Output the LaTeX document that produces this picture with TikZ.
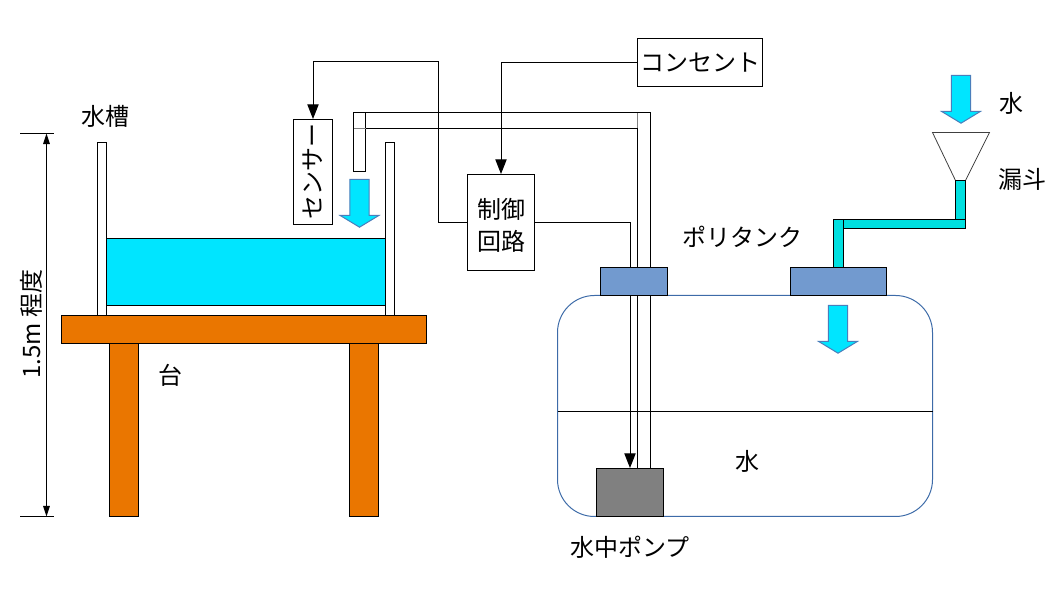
\documentclass[tikz,border=0pt]{standalone}
\usepackage{fontspec}
\setmainfont{Noto Sans CJK JP}
\usetikzlibrary{arrows.meta}
\definecolor{watercol}{HTML}{00E5FF}
\definecolor{flowedge}{HTML}{4A7EBB}
\definecolor{tablecol}{HTML}{EA7600}
\definecolor{capcol}{HTML}{729ACF}
\definecolor{funnelcol}{HTML}{00E0E0}
\definecolor{tankcol}{HTML}{3D6BA8}
\tikzset{
  part/.style={draw=black,line width=0.75pt},
  wire/.style={draw=black,line width=0.75pt},
  wirearrow/.style={wire,-{Triangle[length=11pt,width=8.5pt]}},
  flow/.style={draw=flowedge,fill=watercol,line width=0.75pt},
  tag/.style={inner sep=0pt,font=\fontsize{18}{23}\selectfont},
  labelbox/.style={part,inner sep=0pt,align=center,font=\fontsize{18}{24}\selectfont},
}
\begin{document}
\begin{tikzpicture}[x=0.75pt,y=-0.75pt]
\def\u{0.75pt}
\useasboundingbox (0,0) rectangle (1058,595);

% tank and table
\draw[part] (97,142.5) rectangle (106.5,315.5);
\draw[part] (385,142.5) rectangle (394.5,315.5);
\draw[part] (106.5,305.5) rectangle (385,315.5);
\draw[part,fill=watercol] (106.5,238.5) rectangle (385,305.5);
\foreach \x in {109.5,349.5} \draw[part,fill=tablecol] (\x,343.5) rectangle (\x+29,516.5);
\draw[part,fill=tablecol] (61.5,315.5) rectangle (426.5,343.5);

% height
\coordinate (h1) at (46.5,133.5);
\coordinate (h0) at (46.5,516.5);
\draw[line width=0.75pt] (20,133.5) -- (53.5,133.5) (20,516.5) -- (53.5,516.5);
\draw[line width=0.75pt,{Triangle[length=8pt,width=5pt]}-{Triangle[length=8pt,width=5pt]}] (h1) -- (h0);

% polytank
\draw[draw=tankcol,line width=0.75pt,rounded corners=37*\u] (557.5,295.5) rectangle (932.5,516.5);
\draw[line width=0.75pt] (557.5,411.5) -- (932.5,411.5);

% pump pipe
\draw[part] (637.5,468) -- (637.5,128.5) -- (365.5,128.5) -- (365.5,171.5) -- (353.5,171.5) -- (353.5,112.5) -- (650.5,112.5) -- (650.5,468);
\draw[part] (365.5,112.5) -- (365.5,128.5);
\draw[gray,line width=0.75pt] (353.5,128.5) -- (365.5,128.5) (637.5,113) -- (637.5,128.5);

\node[labelbox,minimum width=39*\u,minimum height=105*\u] (sensor) at (313,172) {\rotatebox{90}{センサー}};
\node[labelbox,minimum width=67*\u,minimum height=96*\u] (ctrl) at (501,222.5) {\rule{0pt}{20pt}制御\\回路};
\node[labelbox,minimum width=125*\u,minimum height=48*\u] (outlet) at (700,62.5) {コンセント};
\node[part,fill=gray,minimum width=67*\u,minimum height=48*\u,inner sep=0pt] (pump) at (630,492.5) {};
\coordinate (wireturn) at (438.5,61.5);
\draw[wirearrow] (ctrl.west) -| (wireturn) -| (sensor.north);
\draw[wirearrow] (outlet.west) -| (ctrl.north);
\draw[wirearrow] (ctrl.east) -| (pump.north);

% funnel
\draw[draw=black!75,line width=0.6pt] (932.5,132.5) -- (989.5,132.5) -- (965.5,180.5) -- (955.5,180.5) -- cycle;
\draw[part,fill=funnelcol] (955.5,180.5) rectangle (965.5,219.5);
\draw[part,fill=funnelcol] (843.5,219.5) rectangle (965.5,228.5);
\draw[part,fill=funnelcol] (833.5,219.5) rectangle (843.5,267.5);

% caps
\draw[part,fill=capcol] (600.5,267.5) rectangle (667.5,295.5);
\draw[part,fill=capcol] (790.5,267.5) rectangle (886.5,295.5);

\foreach \x/\y in {359.5/179.5,961/75.5,838/305.5}
  \draw[flow] (\x-9.7,\y) -- (\x+9.7,\y) -- (\x+9.7,\y+36) -- (\x+19.3,\y+36) -- (\x,\y+47.7) -- (\x-19.3,\y+36) -- (\x-9.7,\y+36) -- cycle;

\node[tag] (lbl1) at (105,116) {水槽};
\node[tag] (lbl2) at (170,375) {台};
\node[tag,rotate=90] (lbl3) at (31,324) {1.5m 程度};
\node[tag] (lbl4) at (742,237) {ポリタンク};
\node[tag] (lbl5) at (747,461) {水};
\node[tag] (lbl6) at (630,547) {水中ポンプ};
\node[tag] (lbl7) at (1011,103) {水};
\node[tag] (lbl8) at (1022,179) {漏斗};
\end{tikzpicture}
\end{document}
